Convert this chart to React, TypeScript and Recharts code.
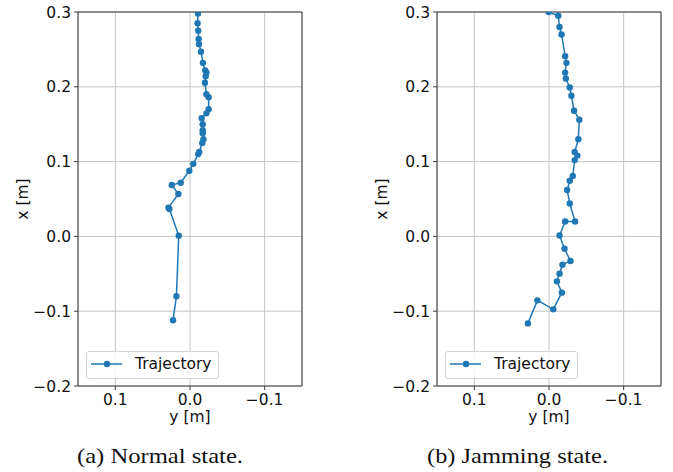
import React from 'react';
import { ScatterChart, Scatter, XAxis, YAxis, CartesianGrid, ReferenceLine } from 'recharts';

// Normal state trajectory (y [m] horizontal, x [m] vertical), bottom to top
const normalY = [0.0227, 0.0182, 0.0151, 0.0276, 0.0289, 0.0156, 0.0244, 0.0124, 0.0009, -0.0044, -0.011, -0.0124, -0.0164, -0.018, -0.017, -0.017, -0.017, -0.0156, -0.022, -0.025, -0.025, -0.022, -0.020, -0.021, -0.022, -0.0204, -0.0173, -0.0147, -0.012, -0.0116, -0.011, -0.0102, -0.0107];
const normalX = [-0.112, -0.080, 0.001, 0.0366, 0.0384, 0.0567, 0.0687, 0.0718, 0.0878, 0.097, 0.110, 0.113, 0.125, 0.130, 0.138, 0.142, 0.150, 0.158, 0.1645, 0.170, 0.186, 0.190, 0.2055, 0.214, 0.219, 0.222, 0.232, 0.247, 0.257, 0.264, 0.275, 0.285, 0.298];

// Jamming state trajectory, bottom to top
const jamY = [0.0283, 0.0155, -0.0057, -0.0172, -0.0106, -0.0141, -0.0181, -0.0287, -0.0208, -0.0141, -0.0216, -0.0349, -0.0278, -0.0243, -0.0278, -0.0318, -0.0344, -0.038, -0.0344, -0.0393, -0.0406, -0.0336, -0.030, -0.0278, -0.0225, -0.0216, -0.0234, -0.0216, -0.0168, -0.0141, -0.0124, 0.0005];
const jamX = [-0.1163, -0.0855, -0.0975, -0.0752, -0.0601, -0.0498, -0.0378, -0.0329, -0.0165, 0.0013, 0.020, 0.020, 0.044, 0.062, 0.0745, 0.0807, 0.102, 0.108, 0.113, 0.130, 0.156, 0.168, 0.188, 0.199, 0.211, 0.219, 0.232, 0.241, 0.270, 0.280, 0.295, 0.300];

const xTicks = [0.1, 0.0, -0.1];
const yTicks = [-0.2, -0.1, 0.0, 0.1, 0.2, 0.3];
const xDomain: [number, number] = [-0.15, 0.15];
const yDomain: [number, number] = [-0.2, 0.3];

const seriesName = 'Trajectory';
const captions = ['(a) Normal state.', '(b) Jamming state.'];
const xLabel = 'y [m]';
const yLabel = 'x [m]';

const BLUE = '#1f77b4';
const AXIS = '#3a3a3a';
const GRID = '#c4c4c4';
const FONT = '"DejaVu Sans", sans-serif';
const FS = 15.5;

const fmt = (v: number) => v.toFixed(1).replace('-', '\u2212');

const build = (ys: number[], xs: number[]) => ys.map((y, i) => ({ y, x: xs[i] }));

const Dot = (props: any) => <circle cx={props.cx} cy={props.cy} r={3.2} fill={BLUE} />;

function Panel({ data, width, right }: { data: { x: number; y: number }[]; width: number; right: number }) {
  const tick = { fontFamily: FONT, fontSize: FS, fill: '#111' };
  return (
    <ScatterChart width={width} height={472} margin={{ top: 12, right, left: 18, bottom: 46 }}>
      <CartesianGrid stroke={GRID} strokeWidth={1} />
      <XAxis
        type="number"
        dataKey="y"
        domain={xDomain}
        ticks={xTicks}
        reversed
        allowDataOverflow
        height={40}
        tickSize={4}
        tickMargin={4}
        tickFormatter={fmt}
        tick={tick}
        stroke={AXIS}
        interval={0}
      />
      <YAxis
        type="number"
        dataKey="x"
        domain={yDomain}
        ticks={yTicks}
        allowDataOverflow
        width={60}
        tickSize={4}
        tickMargin={3}
        tickFormatter={fmt}
        tick={tick}
        stroke={AXIS}
        interval={0}
      />
      <ReferenceLine y={0.3} stroke={AXIS} strokeWidth={1} ifOverflow="extendDomain" />
      <ReferenceLine x={-0.15} stroke={AXIS} strokeWidth={1} ifOverflow="extendDomain" />
      <Scatter
        name={seriesName}
        data={data}
        line={{ stroke: BLUE, strokeWidth: 1.5 }}
        shape={Dot}
        isAnimationActive={false}
      />
    </ScatterChart>
  );
}

function LegendBox({ left, top }: { left: number; top: number }) {
  return (
    <div
      style={{
        position: 'absolute',
        left,
        top,
        width: 133,
        height: 28,
        boxSizing: 'border-box',
        border: '1px solid #d4d4d4',
        borderRadius: 3,
        background: 'rgba(255,255,255,0.85)',
        zIndex: 2,
      }}
    >
      <svg width={133} height={28} style={{ position: 'absolute', left: -1, top: -1 }}>
        <line x1={5} y1={13} x2={36} y2={13} stroke={BLUE} strokeWidth={1.5} />
        <circle cx={21} cy={13} r={3.2} fill={BLUE} />
        <text x={49} y={18} fontFamily={FONT} fontSize={FS} fill="#111">
          {seriesName}
        </text>
      </svg>
    </div>
  );
}

export default function App() {
  const normal = build(normalY, normalX);
  const jam = build(jamY, jamX);
  return (
    <div style={{ position: 'absolute', left: 0, top: 0, width: 673, height: 472, overflow: 'hidden', background: '#fff' }}>
      <div style={{ position: 'absolute', left: 0, top: 0 }}>
        <Panel data={normal} width={320} right={18} />
      </div>
      <div style={{ position: 'absolute', left: 359, top: 0 }}>
        <Panel data={jam} width={314} right={12} />
      </div>
      <LegendBox left={86} top={351} />
      <LegendBox left={445} top={351} />
      <svg width={673} height={472} style={{ position: 'absolute', left: 0, top: 0, pointerEvents: 'none', zIndex: 3 }}>
        <text x={190} y={422} textAnchor="middle" fontFamily={FONT} fontSize={FS} fill="#111">{xLabel}</text>
        <text x={549} y={422} textAnchor="middle" fontFamily={FONT} fontSize={FS} fill="#111">{xLabel}</text>
        <text x={28} y={199} textAnchor="middle" transform="rotate(-90 28 199)" fontFamily={FONT} fontSize={FS} fill="#111">{yLabel}</text>
        <text x={387} y={199} textAnchor="middle" transform="rotate(-90 387 199)" fontFamily={FONT} fontSize={FS} fill="#111">{yLabel}</text>
        <text x={160} y={463} textAnchor="middle" textLength={166} lengthAdjust="spacingAndGlyphs" fontFamily='"Liberation Serif", "Times New Roman", serif' fontSize={21} fill="#111">{captions[0]}</text>
        <text x={517.5} y={463} textAnchor="middle" textLength={181} lengthAdjust="spacingAndGlyphs" fontFamily='"Liberation Serif", "Times New Roman", serif' fontSize={21} fill="#111">{captions[1]}</text>
      </svg>
    </div>
  );
}
